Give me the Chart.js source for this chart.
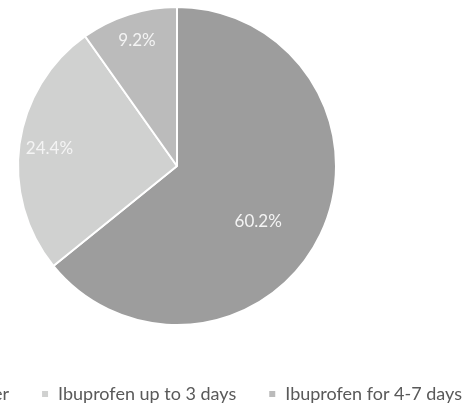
<!DOCTYPE html>
<html>
<head>
<meta charset="utf-8">
<script src="https://cdn.jsdelivr.net/npm/chart.js@4/dist/chart.umd.min.js"></script>
<style>
  html, body { margin: 0; padding: 0; background: #fff; overflow: hidden; }
  #wrap { position: absolute; left: -140px; top: 0; width: 634px; height: 413px; }
</style>
</head>
<body>
<div id="wrap"><canvas id="myChart"></canvas></div>
<script>
const categories = ['Never', 'Ibuprofen up to 3 days', 'Ibuprofen for 4-7 days'];
const shares = [60.2, 24.4, 9.2];
const shareLabels = ['60.2%', '24.4%', '9.2%'];

// draws the percentage text inside each slice
const sliceLabels = {
  id: 'sliceLabels',
  afterDatasetsDraw(chart, args, opts) {
    const ctx = chart.ctx;
    const arcs = chart.getDatasetMeta(0).data;
    ctx.save();
    ctx.font = opts.font;
    ctx.fillStyle = opts.color;
    ctx.textAlign = 'center';
    ctx.textBaseline = 'middle';
    arcs.forEach((arc, i) => {
      const p = arc.getProps(['x', 'y', 'startAngle', 'endAngle', 'outerRadius'], true);
      const mid = (p.startAngle + p.endAngle) / 2 + opts.shift[i] * Math.PI / 180;
      const r = p.outerRadius * opts.radius[i];
      ctx.fillText(shareLabels[i], p.x + Math.cos(mid) * r, p.y + Math.sin(mid) * r);
    });
    ctx.restore();
  }
};

const ctx = document.getElementById('myChart').getContext('2d');
const chart = new Chart(ctx, {
  type: 'pie',
  data: {
    labels: categories,
    datasets: [{
      data: shares,
      backgroundColor: ['#9d9d9d', '#d0d1d0', '#bbbbbb'],
      borderColor: '#ffffff',
      borderWidth: 2,
      radius: 159,
    }]
  },
  options: {
    responsive: true,
    maintainAspectRatio: false,
    animation: false,
    layout: { padding: 0 },
    plugins: {
      tooltip: { enabled: false },
      legend: {
        position: 'bottom',
        align: 'end',
        title: { display: true, text: '', font: { size: 10, lineHeight: 1 }, padding: { top: 11, bottom: 0 } },
        labels: {
          boxWidth: 8,
          boxHeight: 8,
          padding: 32,
          color: '#595959',
          font: { family: 'Lato', size: 18 },
        }
      },
      sliceLabels: {
        font: '17px Lato',
        color: '#f4f4f4',
        radius: [0.62, 0.81, 0.83],
        shift: [9, 0, 0],
      }
    }
  },
  plugins: [sliceLabels]
});
</script>
</body>
</html>
